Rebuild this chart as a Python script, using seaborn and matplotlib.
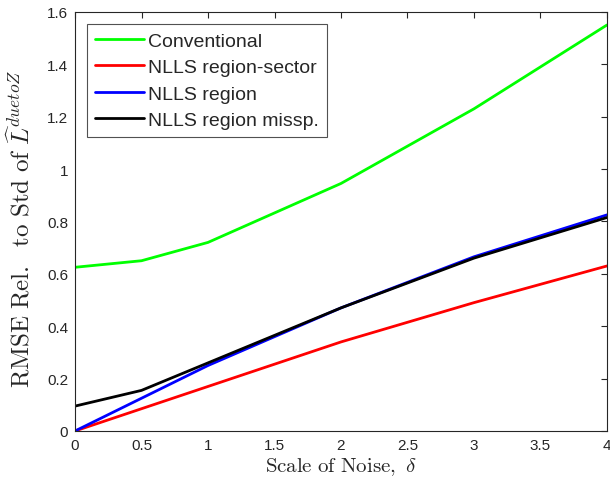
import matplotlib
matplotlib.use("Agg")
import matplotlib.pyplot as plt
import seaborn as sns
import pandas as pd

# noise scale and RMSE values
delta = [0, 0.5, 1, 2, 3, 4]
conventional = [0.625, 0.65, 0.72, 0.945, 1.23, 1.55]
nlls_region_sector = [0.0, 0.085, 0.17, 0.34, 0.49, 0.63]
nlls_region = [0.0, 0.125, 0.25, 0.47, 0.665, 0.825]
nlls_region_missp = [0.095, 0.155, 0.26, 0.47, 0.66, 0.815]

series_names = ["Conventional", "NLLS region-sector", "NLLS region", "NLLS region missp."]
series_colors = ["#00ff00", "#ff0000", "#0000ff", "#000000"]

df = pd.DataFrame({
    "delta": delta * 4,
    "rmse": conventional + nlls_region_sector + nlls_region + nlls_region_missp,
    "method": [n for n in series_names for _ in delta],
})

sns.set_style("white")
plt.rcParams["font.family"] = ["Liberation Sans", "DejaVu Sans"]
plt.rcParams["mathtext.fontset"] = "cm"

fig = plt.figure(figsize=(6.1, 4.89), dpi=100)
ax = fig.add_axes([0.123, 0.1166, 0.872, 0.857])

sns.lineplot(data=df, x="delta", y="rmse", hue="method", hue_order=series_names,
             palette=series_colors, linewidth=2, ax=ax)

ax.set_xlim(0, 4)
ax.set_ylim(0, 1.6)
ax.set_xticks([0, 0.5, 1, 1.5, 2, 2.5, 3, 3.5, 4])
ax.set_xticklabels(["0", "0.5", "1", "1.5", "2", "2.5", "3", "3.5", "4"])
ax.set_yticks([0, 0.2, 0.4, 0.6, 0.8, 1, 1.2, 1.4, 1.6])
ax.set_yticklabels(["0", "0.2", "0.4", "0.6", "0.8", "1", "1.2", "1.4", "1.6"])

tick_color = "#262626"
ax.tick_params(direction="in", top=True, right=True, length=4, width=0.8,
               colors=tick_color, labelsize=11, pad=5)
for s in ax.spines.values():
    s.set_visible(True)
    s.set_color(tick_color)
    s.set_linewidth(0.8)

ax.set_xlabel(r"$\mathrm{Scale\ of\ Noise,}\ \delta$", fontsize=15, color=tick_color, labelpad=2)
ax.set_ylabel(r"$\mathrm{RMSE\ Rel.\ \ to\ Std\ of}\ \widehat{L}^{duetoZ}$", fontsize=18,
              color=tick_color)
ax.yaxis.set_label_coords(-0.076, 0.485)

leg = ax.legend(loc="upper left", bbox_to_anchor=(0.0226, 0.971), frameon=True, fancybox=False,
                fontsize=14, handlelength=2.5, handletextpad=0.2, borderpad=0.42,
                labelspacing=0.45, borderaxespad=0)
leg.get_frame().set_edgecolor(tick_color)
leg.get_frame().set_linewidth(0.8)
for line in leg.get_lines():
    line.set_linewidth(2)

fig.savefig("out.png", dpi=100)
